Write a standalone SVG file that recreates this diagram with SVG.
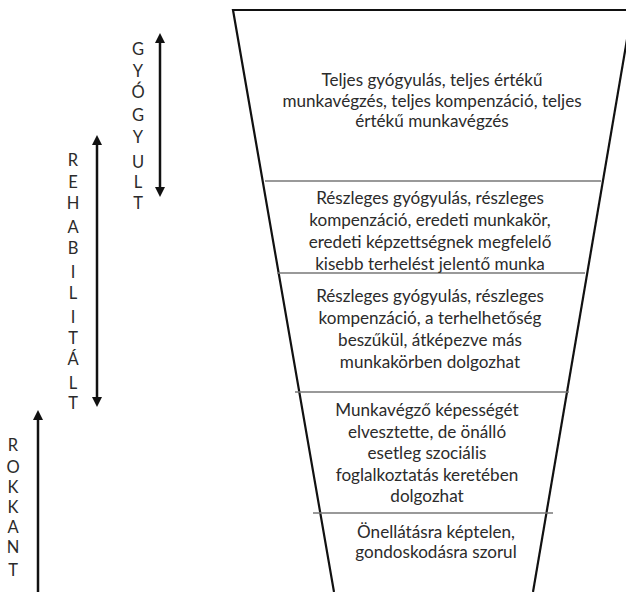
<svg xmlns="http://www.w3.org/2000/svg" width="626" height="592" viewBox="0 0 626 592">
<style>
.t{font-family:Lato,"Open Sans","Liberation Sans",sans-serif;font-size:17.1px;fill:#2b2b2b;text-anchor:middle}
.v{font-family:Lato,"Open Sans","Liberation Sans",sans-serif;font-size:16.5px;fill:#2b2b2b;text-anchor:middle}
.div{stroke:#777;stroke-width:1.6;fill:none}
.side{stroke:#111;stroke-width:2.2;fill:none}
.arr{stroke:#111;stroke-width:2.5;fill:none}
</style>
<defs>
<marker id="ah" viewBox="0 0 10 10" refX="5" refY="5" markerWidth="4" markerHeight="4.4" orient="auto-start-reverse" markerUnits="strokeWidth">
<path d="M0,0 L10,5 L0,10 Z" fill="#111"/>
</marker>
</defs>
<rect width="626" height="592" fill="#fff"/>
<g id="funnel">
<path class="side" d="M334,592 L233,10 L632,10"/>
<path class="side" d="M632,10 L533,592"/>
</g>
<g id="dividers">
<line class="div" x1="265" y1="181" x2="601" y2="181"/>
<line class="div" x1="277" y1="273" x2="585" y2="273"/>
<line class="div" x1="295" y1="392" x2="569" y2="392"/>
<line class="div" x1="313" y1="513" x2="553" y2="513"/>
</g>
<g id="box1">
<text class="t" x="432" y="86">Teljes gyógyulás, teljes értékű</text>
<text class="t" x="432" y="107">munkavégzés, teljes kompenzáció, teljes</text>
<text class="t" x="432" y="127">értékű munkavégzés</text>
</g>
<g id="box2">
<text class="t" x="430" y="204">Részleges gyógyulás, részleges</text>
<text class="t" x="430" y="226">kompenzáció, eredeti munkakör,</text>
<text class="t" x="430" y="248">eredeti képzettségnek megfelelő</text>
<text class="t" x="430" y="270">kisebb terhelést jelentő munka</text>
</g>
<g id="box3">
<text class="t" x="430" y="302">Részleges gyógyulás, részleges</text>
<text class="t" x="430" y="324">kompenzáció, a terhelhetőség</text>
<text class="t" x="430" y="346">beszűkül, átképezve más</text>
<text class="t" x="430" y="368">munkakörben dolgozhat</text>
</g>
<g id="box4">
<text class="t" x="427" y="416">Munkavégző képességét</text>
<text class="t" x="427" y="438">elvesztette, de önálló</text>
<text class="t" x="427" y="459">esetleg szociális</text>
<text class="t" x="427" y="481">foglalkoztatás keretében</text>
<text class="t" x="427" y="502">dolgozhat</text>
</g>
<g id="box5">
<text class="t" x="436" y="538">Önellátásra képtelen,</text>
<text class="t" x="436" y="558">gondoskodásra szorul</text>
</g>
<g id="gyogyult">
<text class="v" x="138" y="55">G</text>
<text class="v" x="138" y="77">Y</text>
<text class="v" x="138" y="98">Ó</text>
<text class="v" x="138" y="121">G</text>
<text class="v" x="138" y="143">Y</text>
<text class="v" x="138" y="168">U</text>
<text class="v" x="138" y="188">L</text>
<text class="v" x="138" y="209">T</text>
</g>
<g id="rehabilitalt">
<text class="v" x="73" y="166">R</text>
<text class="v" x="73" y="188">E</text>
<text class="v" x="73" y="209">H</text>
<text class="v" x="73" y="233">A</text>
<text class="v" x="73" y="254">B</text>
<text class="v" x="73" y="278">I</text>
<text class="v" x="73" y="299">L</text>
<text class="v" x="73" y="323">I</text>
<text class="v" x="73" y="344">T</text>
<text class="v" x="73" y="365">Á</text>
<text class="v" x="73" y="389">L</text>
<text class="v" x="73" y="409">T</text>
</g>
<g id="rokkant">
<text class="v" x="13" y="451">R</text>
<text class="v" x="13" y="473">O</text>
<text class="v" x="13" y="493">K</text>
<text class="v" x="13" y="513">K</text>
<text class="v" x="13" y="533">A</text>
<text class="v" x="13" y="553">N</text>
<text class="v" x="13" y="576">T</text>
</g>
<g id="connectors">
<line class="arr" x1="160" y1="38" x2="160" y2="192" marker-start="url(#ah)" marker-end="url(#ah)"/>
<line class="arr" x1="97" y1="140" x2="97" y2="402" marker-start="url(#ah)" marker-end="url(#ah)"/>
<line class="arr" x1="38" y1="415" x2="38" y2="592" marker-start="url(#ah)"/>
</g>
</svg>
